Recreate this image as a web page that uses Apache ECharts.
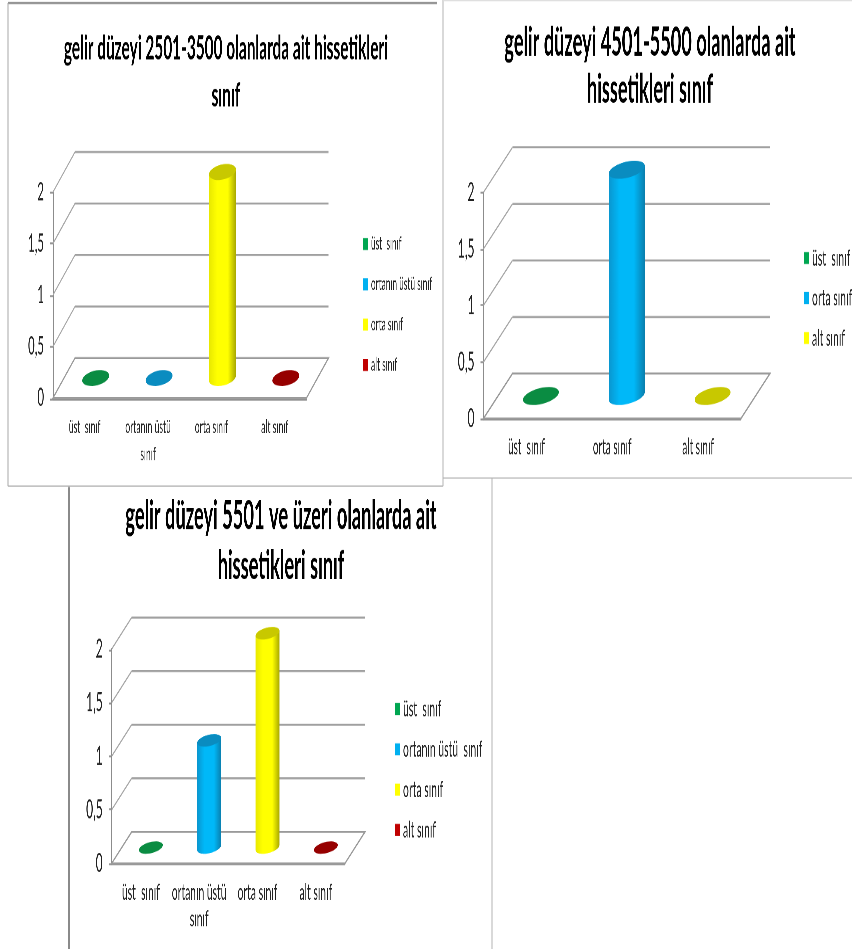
<!DOCTYPE html>
<html>
<head>
<meta charset="utf-8">
<style>
  html, body { margin: 0; padding: 0; background: #fff; width: 852px; height: 949px; overflow: hidden; }
  /* Tall narrow lettering and columns: the drawing is laid out flat and stretched vertically. */
  #chart { width: 852px; height: 431px; transform-origin: 0 0; transform: scaleY(2.2019); }
</style>
</head>
<body>
<div id="chart"></div>
<script src="https://cdn.jsdelivr.net/npm/echarts@6/dist/echarts.min.js"></script>
<script>
// Data
const yTicks = [0, 0.5, 1, 1.5, 2];

const titleA = 'gelir düzeyi 2501-3500 olanlarda ait hissetikleri\nsınıf';
const categoriesA = ['üst  sınıf', 'ortanın üstü\nsınıf', 'orta sınıf', 'alt sınıf'];
const legendA = ['üst  sınıf', 'ortanın üstü sınıf', 'orta sınıf', 'alt sınıf'];
const valuesA = [0, 0, 2, 0];
const toneA = ['green', 'blue', 'yellow', 'red'];

const titleB = 'gelir düzeyi 4501-5500 olanlarda ait\nhissetikleri sınıf';
const categoriesB = ['üst  sınıf', 'orta sınıf', 'alt sınıf'];
const legendB = ['üst  sınıf', 'orta sınıf', 'alt sınıf'];
const valuesB = [0, 2, 0];
const toneB = ['green', 'blue', 'yellow'];

const titleC = 'gelir düzeyi 5501 ve üzeri olanlarda ait\nhissetikleri sınıf';
const categoriesC = ['üst  sınıf', 'ortanın üstü\nsınıf', 'orta sınıf', 'alt sınıf'];
const legendC = ['üst  sınıf', 'ortanın üstü  sınıf', 'orta sınıf', 'alt sınıf'];
const valuesC = [0, 1, 2, 0];
const toneC = ['green', 'blue', 'yellow', 'red'];

const tones = {
  green:  { key: '#00a651', cap: '#0a8c42', body: ['#0a8c42', '#00b050', '#087a38'] },
  blue:   { key: '#00b0f0', cap: '#0a8cc0', body: ['#0a96cf', '#00b8f8', '#0a7fae'] },
  yellow: { key: '#ffff00', cap: '#c8c800', body: ['#e8e800', '#ffff00', '#a8a800'] },
  red:    { key: '#c00000', cap: '#960000', body: ['#960000', '#c00000', '#800000'] }
};

// Layout, in final page pixels; vertical values pass through px() into the flat drawing.
const STRETCH = 949 / 431;
const FONT = 'Lato, "Noto Sans", sans-serif';
const px = y => y / STRETCH;
const TILT = 15 * Math.PI / 180;
const panels = [
  { title: titleA, cats: categoriesA, legend: legendA, vals: valuesA, tone: toneA,
    axisX: 53, axisR: 306.5, y0: 398, y2: 192, dx: 22, dy: -40, a: 13.8, b: 7.4,
    titleX: 226, titleTop: 25, titleSize: 15.4, lineGap: 47,
    labelSize: 8.6, tickSize: 11.5, keyX: 363, keyY: 244, keySize: 8.3, keyGap: 40.3 },
  { title: titleB, cats: categoriesB, legend: legendB, vals: valuesB, tone: toneB,
    axisX: 483.5, axisR: 741, y0: 418.5, y2: 192.3, dx: 29, dy: -45, a: 18.5, b: 7.9,
    titleX: 650, titleTop: 19, titleSize: 18.2, lineGap: 47,
    labelSize: 10, tickSize: 12, keyX: 804, keyY: 258, keySize: 10.4, keyGap: 40 },
  { title: titleC, cats: categoriesC, legend: legendC, vals: valuesC, tone: toneC,
    axisX: 111.7, axisR: 345, y0: 863.3, y2: 649, dx: 20, dy: -31.5, a: 12.3, b: 5.5,
    titleX: 281, titleTop: 491, titleSize: 18.3, lineGap: 50,
    labelSize: 10.3, tickSize: 12, keyX: 395, keyY: 709, keySize: 10.4, keyGap: 40.3 }
];

// Rim of a tilted ellipse between two parameter angles, in flat-drawing coordinates.
function rim(cx, cy, a, b, from, to) {
  const pts = [];
  for (let i = 0; i <= 32; i++) {
    const t = from + (to - from) * i / 32;
    const u = a * Math.cos(t), v = b * Math.sin(t);
    pts.push([cx + u * Math.cos(TILT) + v * Math.sin(TILT),
              cy + px(-u * Math.sin(TILT) + v * Math.cos(TILT))]);
  }
  return pts;
}

// Back wall, side wall and floor, positioned through the value axis.
function wallRenderer(p) {
  return function (params, api) {
    const v = api.value(0);
    const left = params.coordSys.x;
    const right = left + params.coordSys.width;
    const y = api.coord([0, v])[1];
    const ddy = px(p.dy);
    const backY = y + ddy;
    const children = [];
    if (v === 0) {
      children.push({
        type: 'polygon',
        shape: { points: [[left, y], [left + p.dx, backY], [right + p.dx, backY], [right, y]] },
        style: { fill: '#ffffff', stroke: '#9a9a9a', lineWidth: 0.9 }
      });
    } else {
      children.push({
        type: 'line',
        shape: { x1: left, y1: y, x2: left + p.dx, y2: backY },
        style: { stroke: '#a8a8a8', lineWidth: 0.8 }
      });
      children.push({
        type: 'line',
        shape: { x1: left + p.dx, y1: backY, x2: right + p.dx, y2: backY },
        style: { stroke: '#a0a0a0', lineWidth: 0.9 }
      });
    }
    return { type: 'group', children };
  };
}

// Upright cylinder standing in the middle of the floor depth; a zero value leaves only its disc.
function cylinderRenderer(p, tone) {
  const t = tones[tone];
  const t0 = Math.atan((p.b / p.a) * Math.tan(TILT));
  return function (params, api) {
    const top = api.coord([api.value(0), api.value(1)]);
    const base = api.coord([api.value(0), 0]);
    const cx = top[0] + p.dx / 2;
    const shift = px(p.dy) / 2;
    const children = [];
    if (api.value(1) > 0) {
      const lower = rim(cx, base[1] + shift, p.a, p.b, t0, t0 + Math.PI);
      const upper = rim(cx, top[1] + shift, p.a, p.b, t0 + Math.PI, t0 + 2 * Math.PI);
      children.push({
        type: 'polygon',
        shape: { points: lower.concat(upper) },
        style: {
          fill: {
            type: 'linear', x: 0, y: 0, x2: 1, y2: 0,
            colorStops: [
              { offset: 0, color: t.body[0] },
              { offset: 0.3, color: t.body[1] },
              { offset: 0.7, color: t.body[1] },
              { offset: 1, color: t.body[2] }
            ]
          }
        }
      });
    }
    children.push({
      type: 'polygon',
      shape: { points: rim(cx, top[1] + shift, p.a, p.b, 0, 2 * Math.PI) },
      style: { fill: t.cap }
    });
    return { type: 'group', children };
  };
}

const option = {
  animation: false,
  backgroundColor: '#ffffff',
  title: [], grid: [], xAxis: [], yAxis: [], legend: [], series: [],
  graphic: [
    // Panel frames
    { type: 'line', shape: { x1: 8, y1: px(3), x2: 437, y2: px(3) }, style: { stroke: '#8a8a8a', lineWidth: 0.9 } },
    { type: 'line', shape: { x1: 8, y1: px(3), x2: 8, y2: px(486) }, style: { stroke: '#a8a8a8', lineWidth: 1 } },
    { type: 'line', shape: { x1: 8, y1: px(486), x2: 443, y2: px(486) }, style: { stroke: '#a8a8a8', lineWidth: 0.5 } },
    { type: 'line', shape: { x1: 443, y1: 0, x2: 443, y2: px(486) }, style: { stroke: '#b4b4b4', lineWidth: 1 } },
    { type: 'line', shape: { x1: 443, y1: px(0.5), x2: 852, y2: px(0.5) }, style: { stroke: '#dddddd', lineWidth: 0.5 } },
    { type: 'line', shape: { x1: 443, y1: px(478), x2: 852, y2: px(478) }, style: { stroke: '#b4b4b4', lineWidth: 0.5 } },
    { type: 'line', shape: { x1: 69, y1: px(487), x2: 69, y2: 431 }, style: { stroke: '#8a8a8a', lineWidth: 1.4 } },
    { type: 'line', shape: { x1: 492, y1: px(478), x2: 492, y2: 431 }, style: { stroke: '#b4b4b4', lineWidth: 1 } }
  ]
};

const KEY_ROW = 12;

panels.forEach((p, i) => {
  option.title.push({
    text: p.title,
    left: p.titleX,
    top: px(p.titleTop),
    textAlign: 'center',
    padding: 0,
    textStyle: {
      fontFamily: FONT, fontWeight: 'bold', fontSize: p.titleSize,
      lineHeight: px(p.lineGap), color: '#000000'
    }
  });
  option.grid.push({
    left: p.axisX, width: p.axisR - p.axisX,
    top: px(p.y2), height: px(p.y0 - p.y2),
    containLabel: false
  });
  option.xAxis.push({
    type: 'category', gridIndex: i, data: p.cats,
    axisLine: { lineStyle: { color: '#8c8c8c', width: 0.8 } },
    axisTick: { length: 3.4, lineStyle: { color: '#8c8c8c', width: 0.8 } },
    axisLabel: {
      interval: 0, margin: 7, fontFamily: FONT, fontSize: p.labelSize,
      lineHeight: px(27), color: '#222222'
    },
    splitLine: { show: false }
  });
  option.yAxis.push({
    type: 'value', gridIndex: i, min: 0, max: 2, interval: 0.5,
    axisLine: { show: true, lineStyle: { color: '#8c8c8c', width: 0.8 } },
    axisTick: { show: true, length: 3, lineStyle: { color: '#8c8c8c', width: 0.8 } },
    axisLabel: {
      margin: 9, fontFamily: FONT, fontSize: p.tickSize, color: '#222222',
      formatter: v => String(v).replace('.', ',')
    },
    splitLine: { show: false }
  });
  option.legend.push({
    orient: 'vertical', selectedMode: false,
    left: p.keyX, top: px(p.keyY) - KEY_ROW / 2,
    padding: 0, itemWidth: 5, itemHeight: px(12),
    itemGap: px(p.keyGap) - KEY_ROW,
    icon: 'rect',
    textStyle: {
      fontFamily: FONT, fontSize: p.keySize, lineHeight: KEY_ROW, color: '#222222',
      padding: [0, 0, 0, -2]
    },
    data: p.legend.map((name, k) => ({
      name, itemStyle: { color: tones[p.tone[k]].key }
    }))
  });
  option.series.push({
    type: 'custom', name: 'grid' + i, xAxisIndex: i, yAxisIndex: i,
    coordinateSystem: 'cartesian2d', clip: false, silent: true, z: 1,
    encode: { y: 0 }, data: yTicks.map(v => [v]),
    renderItem: wallRenderer(p)
  });
  p.vals.forEach((value, k) => {
    option.series.push({
      type: 'custom', name: p.legend[k], xAxisIndex: i, yAxisIndex: i,
      coordinateSystem: 'cartesian2d', clip: false, z: 3,
      itemStyle: { color: tones[p.tone[k]].key },
      encode: { x: 0, y: 1 }, data: [[k, value]],
      renderItem: cylinderRenderer(p, p.tone[k])
    });
  });
});

const chart = echarts.init(document.getElementById('chart'), null, {
  width: 852, height: 431, devicePixelRatio: 3
});
chart.setOption(option);
</script>
</body>
</html>
